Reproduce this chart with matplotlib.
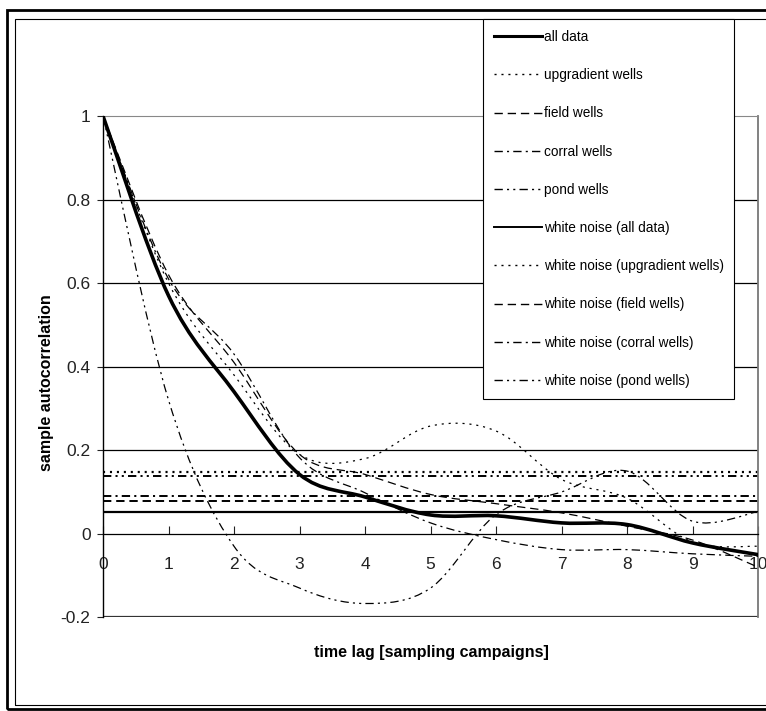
import numpy as np
import matplotlib
matplotlib.use('Agg')
import matplotlib.pyplot as plt
from matplotlib.path import Path
from matplotlib.patches import PathPatch, Rectangle
from matplotlib.lines import Line2D

plt.rcParams['font.family'] = ['Liberation Sans', 'DejaVu Sans']
plt.rcParams['lines.scale_dashes'] = False

# sample autocorrelation at each time lag
lags = [0, 1, 2, 3, 4, 5, 6, 7, 8, 9, 10]
all_data = [1, 0.57, 0.34, 0.142, 0.088, 0.045, 0.043, 0.026, 0.022, -0.022, -0.05]
upgradient = [1, 0.60, 0.38, 0.19, 0.18, 0.258, 0.246, 0.13, 0.085, -0.02, -0.03]
field = [1, 0.62, 0.41, 0.19, 0.142, 0.094, 0.072, 0.05, 0.018, -0.015, -0.08]
corral = [1, 0.61, 0.43, 0.182, 0.098, 0.026, -0.014, -0.038, -0.038, -0.048, -0.054]
pond = [1, 0.32, -0.03, -0.13, -0.167, -0.13, 0.046, 0.10, 0.15, 0.03, 0.053]

# white noise levels
wn_all = 0.051
wn_upgradient = 0.148
wn_field = 0.078
wn_corral = 0.090
wn_pond = 0.138

names = ['all data', 'upgradient wells', 'field wells', 'corral wells', 'pond wells']

dot = (0, (1.5, 3.5))
dash = (0, (6, 3.5))
dashdot = (0, (6, 3, 1.5, 3))
dashdotdot = (0, (6, 3, 1.5, 3, 1.5, 3))

series = [all_data, upgradient, field, corral, pond]
noise = [wn_all, wn_upgradient, wn_field, wn_corral, wn_pond]
styles = ['-', dot, dash, dashdot, dashdotdot]
curve_lw = [2.6, 0.9, 0.9, 0.9, 0.9]
noise_lw = [1.6, 1.6, 1.4, 1.4, 1.4]


# smoothed line like excel (bezier through the points)
def smooth_path(xs, ys):
    pts = np.column_stack([xs, ys]).astype(float)
    verts = [pts[0]]
    codes = [Path.MOVETO]
    n = len(pts)
    for i in range(n - 1):
        p0 = pts[i - 1] if i > 0 else pts[i]
        p1 = pts[i]
        p2 = pts[i + 1]
        p3 = pts[i + 2] if i + 2 < n else pts[i + 1]
        verts += [p1 + (p2 - p0) / 6, p2 - (p3 - p1) / 6, p2]
        codes += [Path.CURVE4] * 3
    return Path(verts, codes)


fig = plt.figure(figsize=(7.66, 7.11), dpi=100)
ax = fig.add_axes([0.1345, 0.1318, 0.8551, 0.705])

for yv in [0.2, 0.4, 0.6, 0.8]:
    ax.axhline(yv, color='black', lw=0.9, zorder=1)
ax.axhline(-0.2, color='#333333', lw=1.6, zorder=1)

handles = []
for ys, st, lw, name in zip(series, styles, curve_lw, names):
    ax.add_patch(PathPatch(smooth_path(lags, ys), fill=False, ec='black',
                           lw=lw, ls=st, zorder=3))
    handles.append(Line2D([], [], color='black', lw=2.2 if lw > 2 else 1.0, ls=st))
for yv, st, lw, name in zip(noise, styles, noise_lw, names):
    ax.axhline(yv, color='black', lw=lw, ls=st, zorder=2)
    handles.append(Line2D([], [], color='black', lw=1.4 if st == '-' else 1.0, ls=st))

labels = names + ['white noise (' + n + ')' for n in names]

ax.set_xlim(0, 10)
ax.set_ylim(-0.2, 1)
ax.set_xticks(lags)
ax.set_xticklabels([str(v) for v in lags])
ax.set_yticks([-0.2, 0, 0.2, 0.4, 0.6, 0.8, 1])
ax.set_yticklabels(['-0.2', '0', '0.2', '0.4', '0.6', '0.8', '1'])
ax.spines['bottom'].set_position(('data', 0))
ax.spines['bottom'].set_linewidth(0.9)
ax.spines['left'].set_linewidth(1.0)
ax.spines['top'].set_color('#888888')
ax.spines['right'].set_color('#777777')
ax.spines['right'].set_linewidth(1.3)
ax.tick_params(axis='x', direction='in', length=6, pad=17, labelsize=12.5, colors='#222222')
ax.tick_params(axis='y', direction='out', length=4, pad=5, labelsize=12.5, colors='#222222')
ax.patch.set_alpha(0)

fig.text(47 / 766, 1 - 383 / 711, 'sample autocorrelation', rotation=90,
         ha='center', va='center', fontsize=11.5, fontweight='bold')
fig.text(431 / 766, 1 - 653 / 711, 'time lag [sampling campaigns]',
         ha='center', va='center', fontsize=11.5, fontweight='bold')

leg = fig.legend(handles, labels, loc='upper left', bbox_to_anchor=(483 / 766, 1 - 19 / 711),
                 fontsize=9.8, frameon=True, fancybox=False, edgecolor='black',
                 framealpha=1, handlelength=3.5, handletextpad=0.15,
                 labelspacing=1.78, borderpad=0.8, borderaxespad=0)
leg.get_frame().set_linewidth(0.8)
leg.set_zorder(10)

# double frame round the chart
fig.patches.append(Rectangle((7 / 766, 1 - 709 / 711), 1.2, (709 - 10) / 711,
                             transform=fig.transFigure, fill=False, ec='black', lw=2.0))
fig.patches.append(Rectangle((15 / 766, 1 - 705 / 711), 1.2, (705 - 19) / 711,
                             transform=fig.transFigure, fill=False, ec='black', lw=0.8))

fig.savefig('out.png', dpi=100)
